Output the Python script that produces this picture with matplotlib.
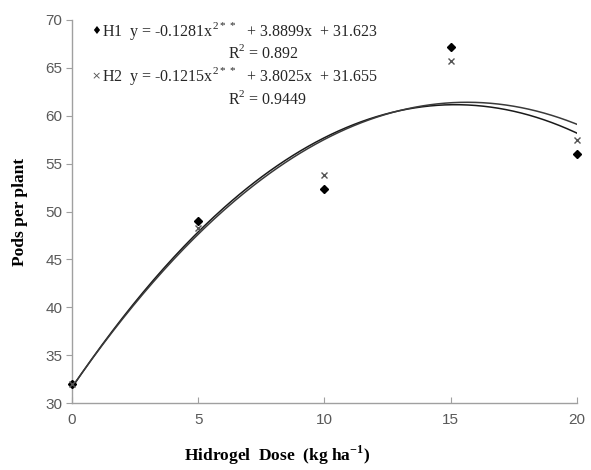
import matplotlib
matplotlib.use('Agg')
import matplotlib.pyplot as plt
import numpy as np

# data
dose = [0, 5, 10, 15, 20]
h1_pods = [32.0, 49.0, 52.3, 67.2, 56.0]
h2_pods = [32.0, 48.3, 53.8, 65.7, 57.5]

# fitted quadratic coefficients (a, b, c) as printed on the chart
h1_fit = (-0.1281, 3.8899, 31.623)
h2_fit = (-0.1215, 3.8025, 31.655)

y_ticks = [30, 35, 40, 45, 50, 55, 60, 65, 70]
x_ticks = [0, 5, 10, 15, 20]

serif = ['Liberation Serif', 'DejaVu Serif']
sans = ['Liberation Sans', 'DejaVu Sans']

fig = plt.figure(figsize=(5.91, 4.70), dpi=100)
ax = fig.add_axes([0.1218, 0.1425, 0.8545, 0.8150])

xs = np.linspace(0, 20, 200)
for (a, b, c), col in [(h1_fit, '#1a1a1a'), (h2_fit, '#3a3a3a')]:
    ax.plot(xs, a * xs**2 + b * xs + c, color=col, lw=1.1, zorder=2)

ax.plot(dose, h1_pods, 'D', color='black', ms=4.5, zorder=3, clip_on=False)
ax.plot(dose, h2_pods, 'x', color='#555555', ms=4, mew=1, zorder=3, clip_on=False)

ax.set_xlim(0, 20)
ax.set_ylim(30, 70)
ax.set_xticks(x_ticks)
ax.set_yticks(y_ticks)
for s in ['top', 'right']:
    ax.spines[s].set_visible(False)
for s in ['left', 'bottom']:
    ax.spines[s].set_color('#a0a0a0')
    ax.spines[s].set_linewidth(1.0)
ax.tick_params(axis='y', direction='out', length=4, color='#a0a0a0',
               labelsize=11, labelcolor='#595959', pad=3)
ax.tick_params(axis='x', direction='in', length=4, color='#a0a0a0',
               labelsize=11, labelcolor='#595959', pad=7)
for lab in ax.get_xticklabels() + ax.get_yticklabels():
    lab.set_family(sans)

fig.text(0.034, 0.549, 'Pods per plant', family=serif, fontweight='bold',
         fontsize=12.5, rotation=90, ha='center', va='center')
fig.text(0.469, 0.032, 'Hidrogel  Dose  (kg ha$^{\\mathregular{-1}}$)', family=serif,
         fontweight='bold', fontsize=12.5, ha='center', va='center')

# equation block
eq_fs = 11.5
txt_col = '#262626'
fig.text(0.155, 0.935, '\u2666', family=['DejaVu Sans'], fontsize=8, va='center')
fig.text(0.172, 0.935,
         'H1  y = -0.1281x$^{\\mathregular{2**}}$  + 3.8899x  + 31.623',
         family=serif, fontsize=eq_fs, va='center', color=txt_col)
fig.text(0.385, 0.887, 'R$^{\\mathregular{2}}$ = 0.892', family=serif,
         fontsize=eq_fs, va='center', color=txt_col)
fig.text(0.155, 0.838, '\u00d7', family=['DejaVu Sans'], fontsize=8, va='center',
         color='#555555')
fig.text(0.172, 0.838,
         'H2  y = -0.1215x$^{\\mathregular{2**}}$  + 3.8025x  + 31.655',
         family=serif, fontsize=eq_fs, va='center', color=txt_col)
fig.text(0.385, 0.79, 'R$^{\\mathregular{2}}$ = 0.9449', family=serif,
         fontsize=eq_fs, va='center', color=txt_col)

fig.savefig('out.png', dpi=100)
